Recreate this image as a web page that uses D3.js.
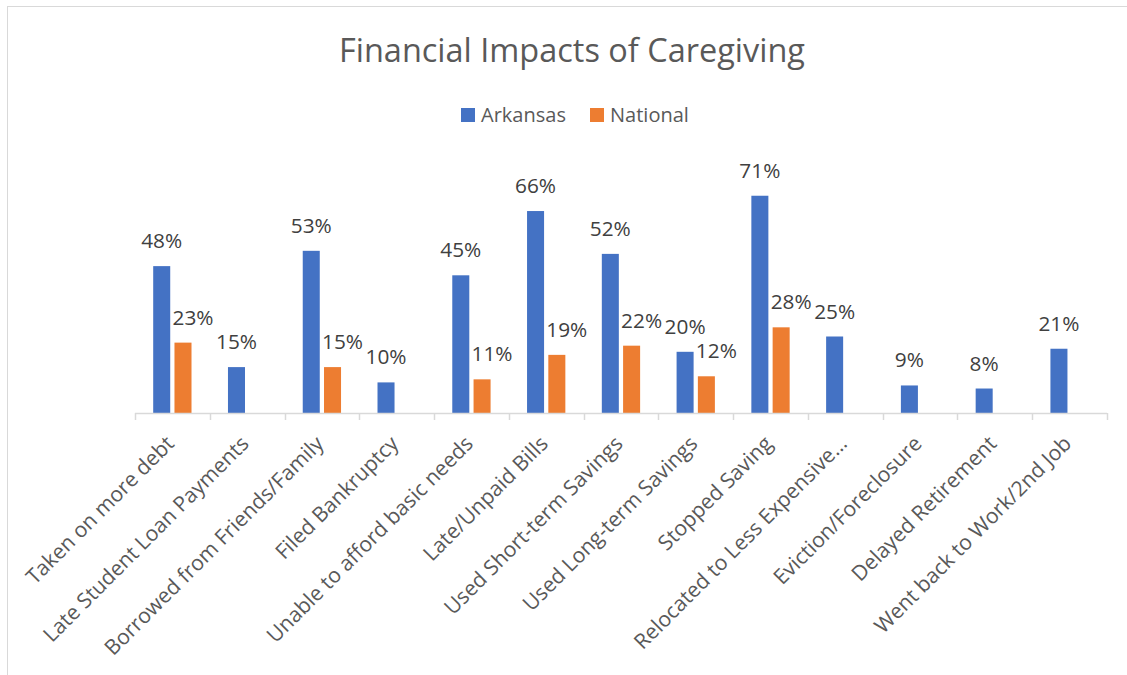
<!DOCTYPE html>
<html>
<head>
<meta charset="utf-8">
<script src="https://cdn.jsdelivr.net/npm/d3@7"></script>
<style>
  html, body { margin: 0; padding: 0; background: #ffffff; }
  svg { display: block; }
</style>
</head>
<body>
<script>
// ---- data ----
const categories = [
  "Taken on more debt",
  "Late Student Loan Payments",
  "Borrowed from Friends/Family",
  "Filed Bankruptcy",
  "Unable to afford basic needs",
  "Late/Unpaid Bills",
  "Used Short-term Savings",
  "Used Long-term Savings",
  "Stopped Saving",
  "Relocated to Less Expensive\u2026",
  "Eviction/Foreclosure",
  "Delayed Retirement",
  "Went back to Work/2nd Job"
];
const seriesNames = ["Arkansas", "National"];
const arkansas = [48, 15, 53, 10, 45, 66, 52, 20, 71, 25, 9, 8, 21];
const national = [23, null, 15, null, 11, 19, 22, 12, 28, null, null, null, null];
const title = "Financial Impacts of Caregiving";

// ---- styles ----
const W = 1127, H = 675;
const FONT = "'Open Sans', 'Noto Sans', sans-serif";
const colors = { Arkansas: "#4472C4", National: "#ED7D31" };

const svg = d3.select("body").append("svg").attr("width", W).attr("height", H);

// chart frame
svg.append("rect").attr("x", 7.5).attr("y", 6.5).attr("width", 1140).attr("height", 700)
  .attr("fill", "#ffffff").attr("stroke", "#d9d9d9").attr("stroke-width", 1);

// fit helper: font size to reach target width
function fitSize(text, target, base) {
  const t = svg.append("text").attr("font-family", FONT).attr("font-size", base).text(text);
  const w = t.node().getComputedTextLength();
  t.remove();
  return base * target / w;
}
const titleSize = fitSize(title, 466, 30);
const labelSize = fitSize("48%", 41, 20);
const legendSize = fitSize("Arkansas", 85, 20);
const axisSize = fitSize("Went back to Work/2nd Job", 268, 20);

// scales
const x0 = d3.scaleBand().domain(categories).range([135, 1107]).padding(0);
const x1 = d3.scaleBand().domain(seriesNames).range([18.2, 56.5]).paddingInner(0.2);
const y = d3.scaleLinear().domain([0, 80]).range([413, 413 - 80 * 3.06]);

// title
svg.append("text").attr("x", 572).attr("y", 62).attr("text-anchor", "middle")
  .attr("font-family", FONT).attr("font-size", titleSize).attr("fill", "#595959")
  .text(title);

// legend
const legendItems = [
  { name: "Arkansas", sx: 461, tx: 481 },
  { name: "National", sx: 590, tx: 610 }
];
const lg = svg.append("g");
lg.selectAll("rect").data(legendItems).join("rect")
  .attr("x", d => d.sx).attr("y", 108).attr("width", 14).attr("height", 14)
  .attr("fill", d => colors[d.name]);
lg.selectAll("text").data(legendItems).join("text")
  .attr("x", d => d.tx).attr("y", 122)
  .attr("font-family", FONT).attr("font-size", legendSize).attr("fill", "#595959")
  .text(d => d.name);

// bars
const data = categories.map((c, i) => ({ cat: c, vals: [
  { s: "Arkansas", v: arkansas[i] },
  { s: "National", v: national[i] }
].filter(d => d.v !== null) }));

const groups = svg.append("g").selectAll("g").data(data).join("g")
  .attr("transform", d => `translate(${x0(d.cat)},0)`);

groups.selectAll("rect").data(d => d.vals).join("rect")
  .attr("x", d => x1(d.s)).attr("width", x1.bandwidth())
  .attr("y", d => y(d.v)).attr("height", d => y(0) - y(d.v))
  .attr("fill", d => colors[d.s]);

groups.selectAll("text").data(d => d.vals).join("text")
  .attr("x", d => x1(d.s) + x1.bandwidth() / 2 + (d.s === "National" ? 10 : 0))
  .attr("y", d => y(d.v) - 18)
  .attr("text-anchor", "middle")
  .attr("font-family", FONT).attr("font-size", labelSize).attr("fill", "#404040")
  .text(d => d.v + "%");

// x axis
const axis = svg.append("g").attr("transform", `translate(0,${y(0)})`);
axis.append("line").attr("x1", 135).attr("x2", 1107).attr("y1", 0.5).attr("y2", 0.5)
  .attr("stroke", "#d9d9d9").attr("stroke-width", 1.5);
const tickPos = categories.map(c => x0(c)).concat([x0.range()[1]]);
axis.selectAll("line.tick").data(tickPos).join("line").attr("class", "tick")
  .attr("x1", d => Math.round(d) + 0.5).attr("x2", d => Math.round(d) + 0.5)
  .attr("y1", 0).attr("y2", 7).attr("stroke", "#d9d9d9").attr("stroke-width", 1.5);
axis.selectAll("text").data(categories).join("text")
  .attr("transform", d => `translate(${x0(d) + x0.bandwidth() / 2 + 3},${32}) rotate(-45)`)
  .attr("text-anchor", "end")
  .attr("font-family", FONT).attr("font-size", axisSize).attr("fill", "#595959")
  .text(d => d);
</script>
</body>
</html>
